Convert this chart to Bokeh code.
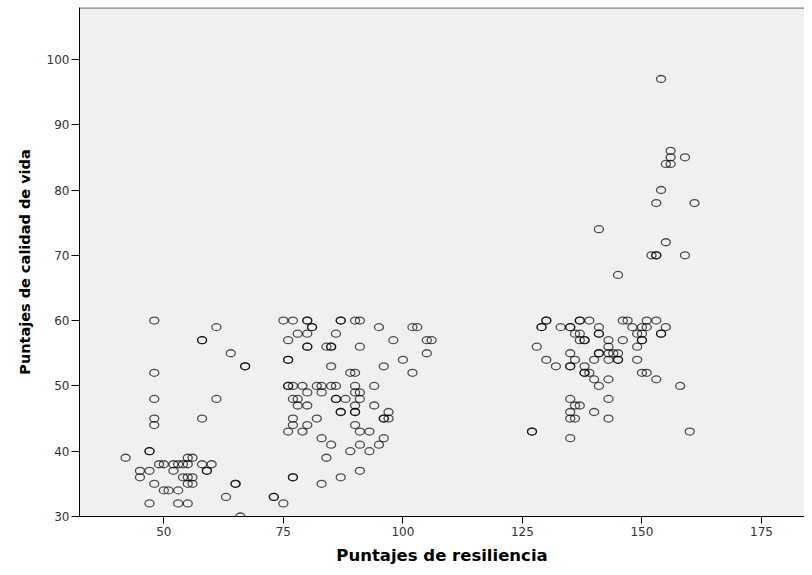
from bokeh.plotting import figure
from bokeh.models import ColumnDataSource, Range1d, FixedTicker, Span
from bokeh.embed import file_html
from bokeh.resources import INLINE

# Puntajes de resiliencia (x) and Puntajes de calidad de vida (y)
resiliencia_izq = [48, 61, 58, 58, 64, 67, 67, 48, 48, 61, 48, 48, 58, 47, 47, 42,
                   49, 50, 52, 53, 54, 55, 58, 60,
                   55, 56,
                   45, 47, 52, 59, 59,
                   45, 54, 55, 56,
                   48, 55, 56, 65, 65,
                   50, 51, 53,
                   63, 73, 73,
                   47, 53, 55, 75,
                   66]
calidad_izq = [60, 59, 57, 57, 55, 53, 53, 52, 48, 48, 45, 44, 45, 40, 40, 39,
               38, 38, 38, 38, 38, 38, 38, 38,
               39, 39,
               37, 37, 37, 37, 37,
               36, 36, 36, 36,
               35, 35, 35, 35, 35,
               34, 34, 34,
               33, 33, 33,
               32, 32, 32, 32,
               30]

resiliencia_med = [75, 77, 80, 80, 87, 87, 90, 91,
                   81, 81, 95, 102, 103,
                   78, 80, 86,
                   76, 98, 105, 106,
                   80, 80, 84, 85, 85, 91,
                   105,
                   76, 76, 100,
                   85, 96,
                   89, 90, 102,
                   76, 76, 77, 79, 82, 83, 85, 86, 90, 94,
                   80, 83, 90, 91,
                   77, 78, 86, 86, 88, 91,
                   78, 80, 90, 94,
                   87, 87, 90, 90, 97,
                   77, 82, 96, 96, 97,
                   77, 80, 90,
                   76, 79, 91, 93,
                   83, 96,
                   85, 91, 95,
                   89, 93,
                   84,
                   91,
                   77, 77, 87,
                   83]
calidad_med = [60, 60, 60, 60, 60, 60, 60, 60,
               59, 59, 59, 59, 59,
               58, 58, 58,
               57, 57, 57, 57,
               56, 56, 56, 56, 56, 56,
               55,
               54, 54, 54,
               53, 53,
               52, 52, 52,
               50, 50, 50, 50, 50, 50, 50, 50, 50, 50,
               49, 49, 49, 49,
               48, 48, 48, 48, 48, 48,
               47, 47, 47, 47,
               46, 46, 46, 46, 46,
               45, 45, 45, 45, 45,
               44, 44, 44,
               43, 43, 43, 43,
               42, 42,
               41, 41, 41,
               40, 40,
               39,
               37,
               36, 36, 36,
               35]

resiliencia_der = [130, 130, 137, 137, 139, 146, 147, 151, 153,
                   129, 129, 133, 135, 135, 141, 148, 150, 151, 155,
                   136, 137, 141, 141, 149, 150, 154, 154,
                   137, 138, 138, 143, 146, 150, 150,
                   128, 143, 149,
                   135, 141, 141, 143, 144, 145,
                   130, 136, 140, 143, 145, 145, 149,
                   132, 135, 135, 138,
                   138, 138, 139, 150, 151,
                   140, 143, 153,
                   141, 158,
                   135, 143,
                   136, 137,
                   135, 140,
                   135, 136, 143,
                   127, 127, 160,
                   135,
                   154, 156, 156, 155, 156, 159, 154, 153, 161, 141, 155,
                   152, 153, 153, 159, 145]
calidad_der = [60, 60, 60, 60, 60, 60, 60, 60, 60,
               59, 59, 59, 59, 59, 59, 59, 59, 59, 59,
               58, 58, 58, 58, 58, 58, 58, 58,
               57, 57, 57, 57, 57, 57, 57,
               56, 56, 56,
               55, 55, 55, 55, 55, 55,
               54, 54, 54, 54, 54, 54, 54,
               53, 53, 53, 53,
               52, 52, 52, 52, 52,
               51, 51, 51,
               50, 50,
               48, 48,
               47, 47,
               46, 46,
               45, 45, 45,
               43, 43, 43,
               42,
               97, 86, 85, 84, 84, 85, 80, 78, 78, 74, 72,
               70, 70, 70, 70, 67]

x_ticks = [50, 75, 100, 125, 150, 175]
y_ticks = [30, 40, 50, 60, 70, 80, 90, 100]

x_label = "Puntajes de resiliencia"
y_label = "Puntajes de calidad de vida"

src = ColumnDataSource(dict(
    x=resiliencia_izq + resiliencia_med + resiliencia_der,
    y=calidad_izq + calidad_med + calidad_der,
))

Y_TOP = 107.95

p = figure(width=804, height=567, output_backend="svg", toolbar_location=None,
           x_range=Range1d(32.36, 184.0), y_range=Range1d(30, Y_TOP),
           min_border_left=79, min_border_right=0, min_border_top=7,
           min_border_bottom=50)
p.background_fill_color = "#f0f0f0"
p.border_fill_color = "white"
p.outline_line_color = None
p.grid.visible = False

p.xaxis.ticker = FixedTicker(ticks=x_ticks)
p.yaxis.ticker = FixedTicker(ticks=y_ticks)
for ax in (p.xaxis, p.yaxis):
    ax.axis_line_color = "black"
    ax.axis_line_width = 1
    ax.major_tick_line_color = "black"
    ax.major_tick_in = 0
    ax.minor_tick_line_color = None
    ax.major_label_text_font = "DejaVu Sans"
    ax.major_label_text_font_size = "12px"
    ax.major_label_text_color = "#333333"
    ax.axis_label_text_font = "DejaVu Sans"
    ax.axis_label_text_font_style = "bold"
    ax.axis_label_text_color = "black"
p.xaxis.major_tick_out = 7
p.yaxis.major_tick_out = 8
p.xaxis.major_label_standoff = 3
p.yaxis.major_label_standoff = 2
p.xaxis.axis_label = x_label
p.yaxis.axis_label = y_label
p.xaxis.axis_label_text_font_size = "16.5px"
p.yaxis.axis_label_text_font_size = "14.5px"
p.xaxis.axis_label_standoff = 7
p.yaxis.axis_label_standoff = 11

p.add_layout(Span(location=Y_TOP, dimension="width", line_color="#8a8a8a",
                  line_width=2.5))

p.ellipse(x="x", y="y", width=9, height=7, width_units="screen",
          height_units="screen", source=src, fill_color=None,
          line_color="black", line_alpha=0.68, line_width=1.3)

open("out.html", "w").write(file_html(p, INLINE))
